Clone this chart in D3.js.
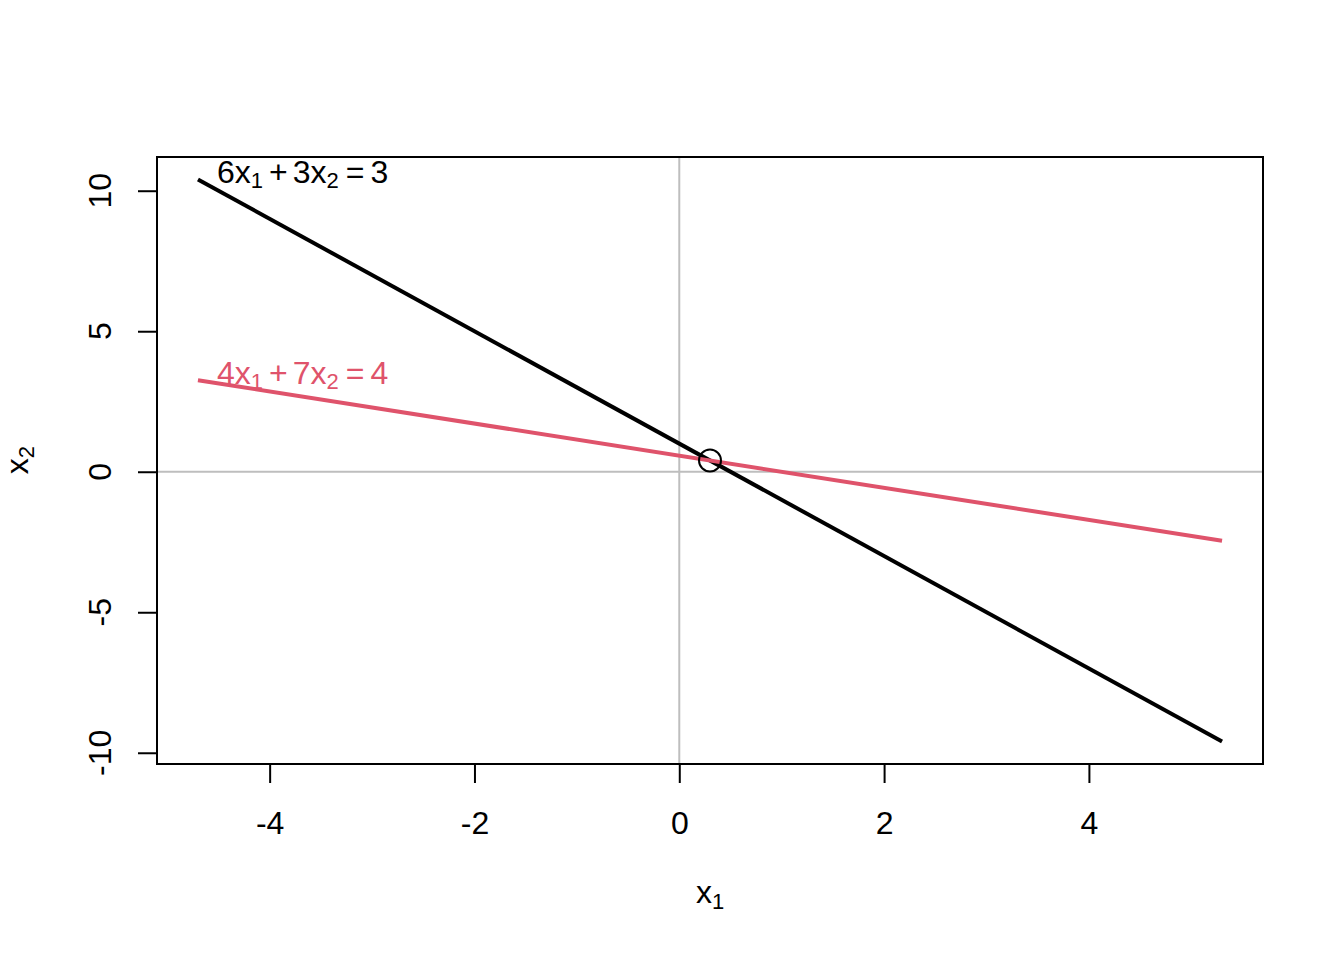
<!DOCTYPE html>
<html>
<head>
<meta charset="utf-8">
<script src="https://cdn.jsdelivr.net/npm/d3@7"></script>
<style>
  body { margin: 0; background: white; }
  svg text { font-family: "Liberation Sans", Arial, Helvetica, sans-serif; }
</style>
</head>
<body>
<div id="chart"></div>
<script>
// endpoints of each line (x1, x2)
const blackLine = [[-4.7, 10.4], [5.3, -9.6]];
const redLine = [[-4.7, 3.257], [5.3, -2.457]];
const solution = [0.3, 0.4];
const xTicks = [-4, -2, 0, 2, 4];
const yTicks = [-10, -5, 0, 5, 10];
const lineLabels = [
  {coef: ["6", "3", "3"], color: "#000000", at: blackLine[0]},
  {coef: ["4", "7", "4"], color: "#DF536B", at: redLine[0]}
];

const width = 1344;
const height = 960;
const plotLeft = 157, plotRight = 1263, plotTop = 157, plotBottom = 764;

const svg = d3.select("#chart")
  .append("svg")
  .attr("width", width)
  .attr("height", height);

// R pads the data range by 4% on each side
const x = d3.scaleLinear().domain([-5.1, 5.7]).range([plotLeft, plotRight]);
const y = d3.scaleLinear().domain([-10.4, 11.2]).range([plotBottom, plotTop]);

// x axis
const xAxis = svg.append("g")
  .attr("transform", `translate(0, ${plotBottom})`)
  .call(d3.axisBottom(x).tickValues(xTicks).tickSize(19).tickPadding(51).tickFormat(d3.format("d")));
xAxis.select(".domain").remove();
xAxis.selectAll("line").attr("stroke", "black").attr("stroke-width", 2);
xAxis.selectAll("text")
  .attr("fill", "black")
  .attr("dy", 0)
  .style("font-size", "32px")
  .text(d => d < 0 ? "-" + Math.abs(d) : d);

// y axis, labels rotated like R's default
const yAxis = svg.append("g")
  .attr("transform", `translate(${plotLeft}, 0)`)
  .call(d3.axisLeft(y).tickValues(yTicks).tickSize(19));
yAxis.select(".domain").remove();
yAxis.selectAll("line").attr("stroke", "black").attr("stroke-width", 2);
yAxis.selectAll("text").remove();
svg.append("g").selectAll("text")
  .data(yTicks)
  .enter().append("text")
  .attr("transform", d => `translate(111, ${y(d)}) rotate(-90)`)
  .attr("text-anchor", "middle")
  .style("font-size", "32px")
  .text(d => d < 0 ? "-" + Math.abs(d) : d);

// grey reference lines through the origin
svg.append("line")
  .attr("x1", x(0)).attr("x2", x(0))
  .attr("y1", plotTop).attr("y2", plotBottom)
  .attr("stroke", "#BEBEBE").attr("stroke-width", 2);
svg.append("line")
  .attr("x1", plotLeft).attr("x2", plotRight)
  .attr("y1", y(0)).attr("y2", y(0))
  .attr("stroke", "#BEBEBE").attr("stroke-width", 2);

// the two lines
const line = d3.line().x(d => x(d[0])).y(d => y(d[1]));
svg.append("path")
  .attr("d", line(blackLine))
  .attr("fill", "none")
  .attr("stroke", "black")
  .attr("stroke-width", 4);
svg.append("path")
  .attr("d", line(redLine))
  .attr("fill", "none")
  .attr("stroke", "#DF536B")
  .attr("stroke-width", 4);

// intersection point
svg.append("circle")
  .attr("cx", x(solution[0]))
  .attr("cy", y(solution[1]))
  .attr("r", 11)
  .attr("fill", "none")
  .attr("stroke", "black")
  .attr("stroke-width", 2);

// equation labels
lineLabels.forEach(l => {
  const t = svg.append("text")
    .attr("x", x(l.at[0]) + 19)
    .attr("y", y(l.at[1]) + 4)
    .attr("fill", l.color)
    .style("font-size", "32px");
  t.append("tspan").text(l.coef[0] + "x");
  t.append("tspan").attr("dy", 5).style("font-size", "22px").text("1");
  t.append("tspan").attr("dy", -5).attr("dx", 6).text("+");
  t.append("tspan").attr("dx", 5).text(l.coef[1] + "x");
  t.append("tspan").attr("dy", 5).style("font-size", "22px").text("2");
  t.append("tspan").attr("dy", -5).attr("dx", 7).text("=");
  t.append("tspan").attr("dx", 6).text(l.coef[2]);
});

// box
svg.append("rect")
  .attr("x", plotLeft).attr("y", plotTop)
  .attr("width", plotRight - plotLeft).attr("height", plotBottom - plotTop)
  .attr("fill", "none")
  .attr("stroke", "black")
  .attr("stroke-width", 2);

// axis titles
const xt = svg.append("text")
  .attr("x", 710).attr("y", 903)
  .attr("text-anchor", "middle")
  .style("font-size", "32px");
xt.append("tspan").text("x");
xt.append("tspan").attr("dy", 6).style("font-size", "22px").text("1");

const yt = svg.append("text")
  .attr("transform", "translate(28, 460) rotate(-90)")
  .attr("text-anchor", "middle")
  .style("font-size", "32px");
yt.append("tspan").text("x");
yt.append("tspan").attr("dy", 6).style("font-size", "22px").text("2");
</script>
</body>
</html>
